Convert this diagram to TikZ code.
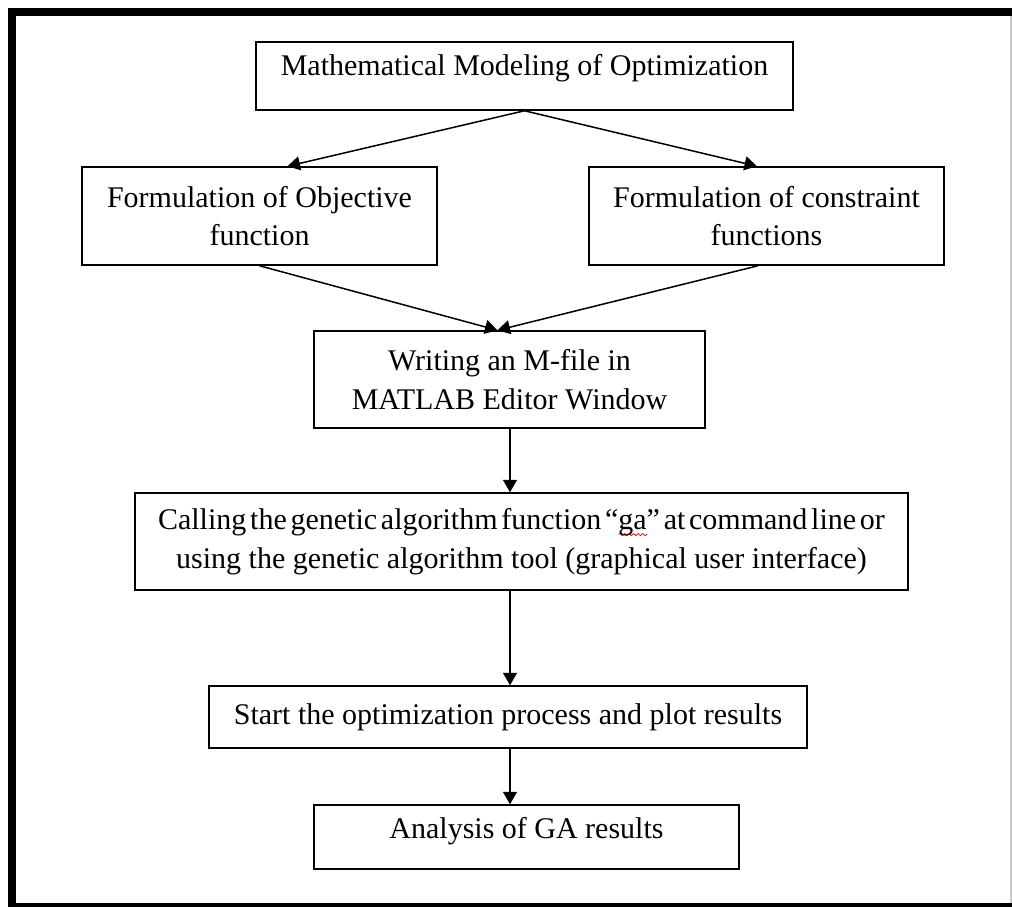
\documentclass[tikz,border=0pt]{standalone}
\usepackage{fontspec}
\setmainfont{Liberation Serif}
\usetikzlibrary{arrows.meta}
\usetikzlibrary{decorations.pathmorphing}
\tikzset{box/.style={draw, line width=0.6pt, inner sep=0pt, align=center, font=\fontsize{12}{15.4}\selectfont}}
\tikzset{flow/.style={line width=0.6pt, -{Triangle[length=5pt,width=5.6pt]}}}
\tikzset{spell it/.style={red, line width=0.3pt, decorate, decoration={snake, amplitude=0.45pt, segment length=1.8pt}}}
\newsavebox\wavebox
\newlength\wavelen
\newcommand\spellwave[1]{\sbox\wavebox{#1}\setlength\wavelen{\wd\wavebox}%
  \rlap{\raisebox{-2.6pt}{\tikz[x=1pt,y=1pt]\draw[spell it] (0,0) -- (\wavelen,0);}}\usebox\wavebox}

\begin{document}
\begin{tikzpicture}[x=0.4pt,y=-0.4pt]
        \useasboundingbox (0,0) rectangle (1012,907);
        % page frame
        \fill (8,8) rectangle (16,907);
        \fill (8,8) rectangle (1012,16);
        \fill (8,903) rectangle (1012,907);
        \draw [gray!40, line width=0.8pt] (1011,16) -- (1011,903);
        % boxes
        \node [box, minimum width=214.8pt, text height=13.2pt, text depth=14pt] (model) at (524.5,76) {Mathematical Modeling of Optimization};
        \node [box, minimum width=142pt, minimum height=39.2pt] (objective) at (259.5,216) {Formulation of Objective\\function};
        \node [box, minimum width=142pt, minimum height=39.2pt] (constraint) at (766.5,216) {Formulation of constraint\\functions};
        \node [box, minimum width=156.4pt, minimum height=38.8pt] (mfile) at (509.5,379.5) {Writing an M-file in\\MATLAB Editor Window};
        \node [box, minimum width=309.2pt, minimum height=38.8pt] (gacall) at (521.5,541.5) {{\spaceskip=1.5pt Calling the genetic algorithm function “\spellwave{ga}” at command line or}\\using the genetic algorithm tool (graphical user interface)};
        \node [box, minimum width=239.2pt, minimum height=24.8pt] (run) at (508,717) {Start the optimization process and plot results};
        \node [box, minimum width=170pt, text height=13.2pt, text depth=12.4pt] (results) at (526.5,837) {Analysis of GA results};
        % arrows
        \draw [flow] (model.south) -- ([xshift=11.2pt]objective.north);
        \draw [flow] (model.south) -- ([xshift=-3.8pt]constraint.north);
        \draw [flow] (objective.south) -- ([xshift=-4.8pt]mfile.north);
        \draw [flow] ([xshift=-3.4pt]constraint.south) -- ([xshift=-4.8pt]mfile.north);
        \coordinate (spine) at (510,0);
        \draw [flow] (mfile.south -| spine) -- (gacall.north -| spine);
        \draw [flow] (gacall.south -| spine) -- (run.north -| spine);
        \draw [flow] (run.south -| spine) -- (results.north -| spine);
    \end{tikzpicture}
\end{document}
